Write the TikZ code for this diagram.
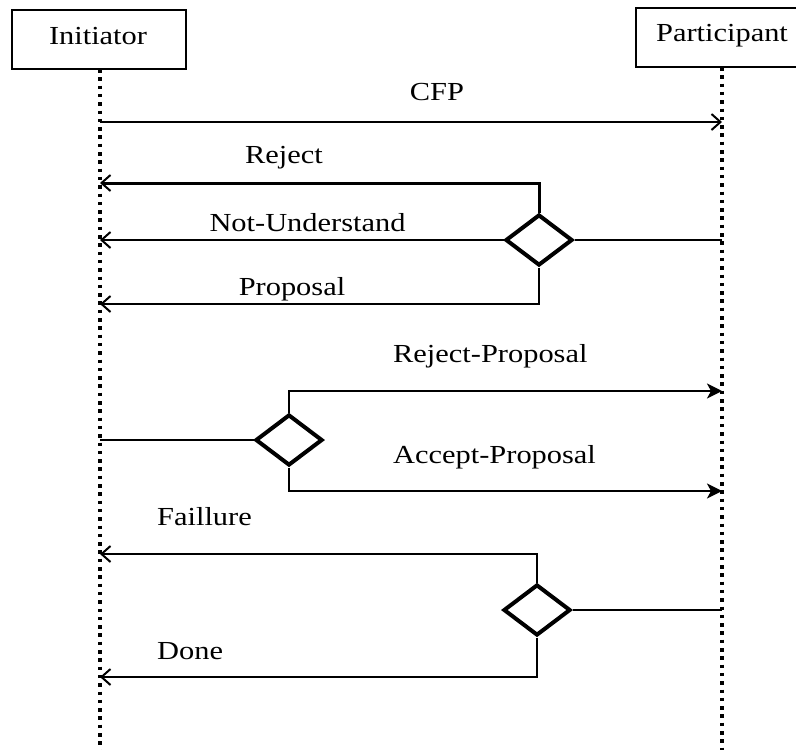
\documentclass[tikz,border=0pt]{standalone}
\usepackage{fontspec}
\setmainfont{Liberation Serif}
\usetikzlibrary{arrows.meta,shapes.geometric}

% labels are set a little wider than the plain font
\newcommand{\widetext}[1]{\scalebox{1.17}[1]{#1}}

\begin{document}
\begin{tikzpicture}[x=1pt,y=-1pt,
  lbl/.style={inner sep=0pt, font=\fontsize{26}{30}\selectfont},
  actor/.style={draw, line width=2pt, minimum width=174pt, minimum height=59pt, inner sep=0pt},
  lifeline/.style={line width=3.5pt, dash pattern=on 3.5pt off 4.8pt},
  msg/.style={line width=1.9pt},
  heavymsg/.style={line width=3pt},
  openhead/.style={-{Straight Barb[length=9pt,width=16pt,line width=2pt]}},
  solidhead/.style={-{Stealth[length=15pt,width=15pt,inset=4pt]}},
  gate/.style={draw, diamond, line width=4pt, minimum width=67pt, minimum height=51pt, inner sep=0pt, fill=white},
]
\useasboundingbox (0,0) rectangle (796,750);
\clip (0,0) rectangle (796,750);
\fill[white] (0,0) rectangle (796,750);

% actors
\node[actor] (ini) at (99,39.5) {};
\node[lbl, anchor=base] (iniT) at (98,44) {\widetext{Initiator}};
\node[actor] (par) at (723,37.5) {};
\node[lbl, anchor=base] (parT) at (722,41) {\widetext{Participant}};

% lifelines
\coordinate (iniTop) at (100,69);
\coordinate (iniBot) at (100,752);
\coordinate (parTop) at (722,67);
\coordinate (parBot) at (722,752);
\draw[lifeline] (iniTop) -- (iniBot);
\draw[lifeline] (parTop) -- (parBot);

% points on the lifelines
\coordinate (iCFP) at (100,122);
\coordinate (pCFP) at (722,122);
\coordinate (iRej) at (100,183);
\coordinate (iNU)  at (100,240);
\coordinate (pNU)  at (722,240);
\coordinate (iProp) at (100,304);
\coordinate (pRP)  at (722,391);
\coordinate (iD2)  at (100,440);
\coordinate (pAP)  at (722,491);
\coordinate (iFail) at (100,554);
\coordinate (pD3)  at (722,610);
\coordinate (iDone) at (100,677);

% decision points
\node[gate] (d1) at (539,240) {};
\node[gate] (d2) at (289,440) {};
\node[gate] (d3) at (537,610) {};

% call for proposals
\draw[msg, openhead] (iCFP) -- (pCFP);
\node[lbl, anchor=base] (tCFP) at (437,100) {\widetext{CFP}};

% participant replies
\draw[heavymsg, openhead] (d1.north) |- (iRej);
\draw[msg, openhead] (d1.west) -- (iNU);
\draw[msg] (pNU) -- (d1.east);
\draw[msg, openhead] (d1.south) |- (iProp);
\node[lbl, anchor=base] (tRej) at (284,163) {\widetext{Reject}};
\node[lbl, anchor=base] (tNU) at (307.5,231) {\widetext{Not-Understand}};
\node[lbl, anchor=base] (tProp) at (292,295) {\widetext{Proposal}};

% initiator decision
\draw[msg] (iD2) -- (d2.west);
\draw[msg, solidhead] (d2.north) |- (pRP);
\draw[msg, solidhead] (d2.south) |- (pAP);
\node[lbl, anchor=base west] (tRP) at (393,362) {\widetext{Reject-Proposal}};
\node[lbl, anchor=base west] (tAP) at (393,463) {\widetext{Accept-Proposal}};

% outcome
\draw[msg] (pD3) -- (d3.east);
\draw[msg, openhead] (d3.north) |- (iFail);
\draw[msg, openhead] (d3.south) |- (iDone);
\node[lbl, anchor=base west] (tFail) at (157,525) {\widetext{Faillure}};
\node[lbl, anchor=base west] (tDone) at (157,659) {\widetext{Done}};
\end{tikzpicture}
\end{document}
